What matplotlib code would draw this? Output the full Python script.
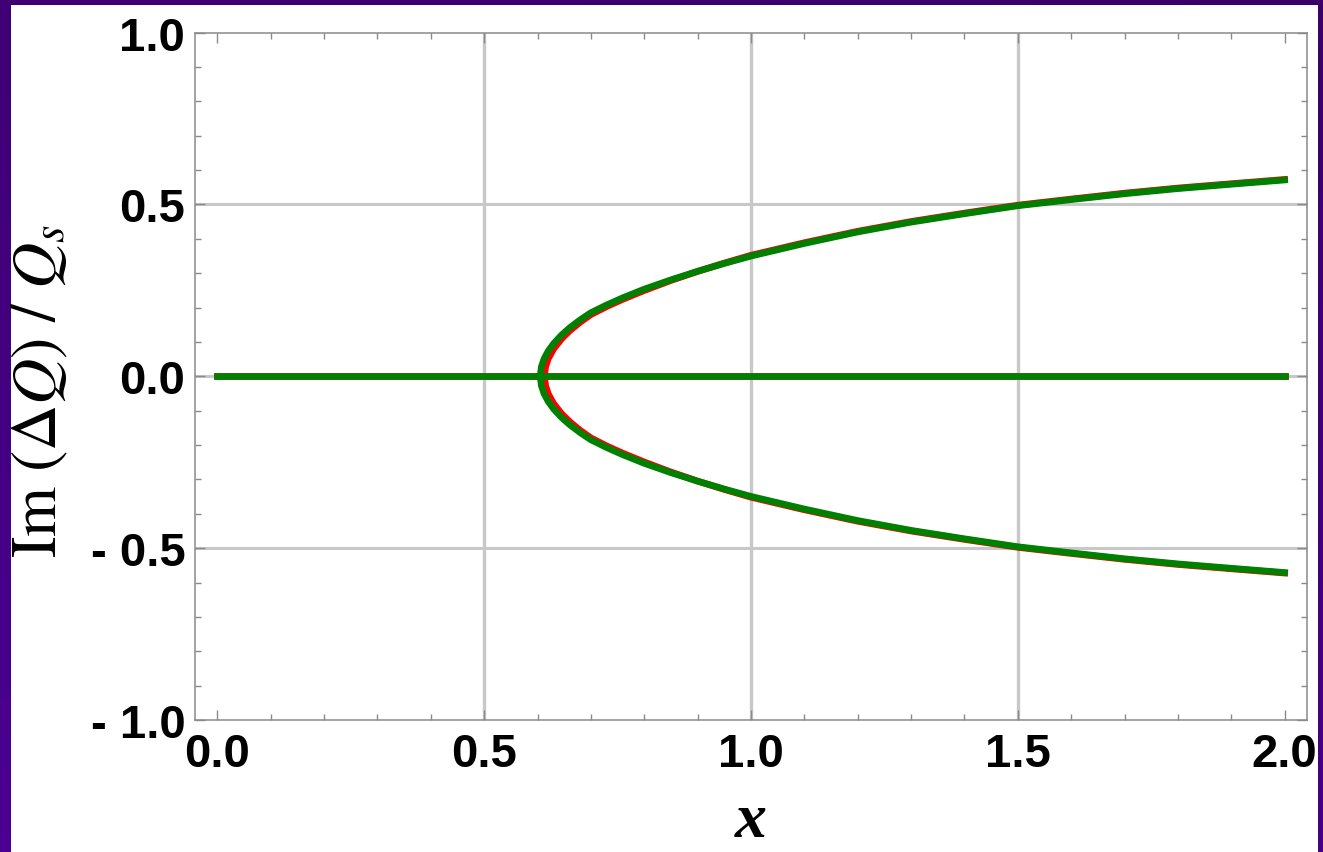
import numpy as np
import matplotlib
matplotlib.use("Agg")
import matplotlib.pyplot as plt
from matplotlib.patches import Rectangle
from matplotlib.ticker import MultipleLocator
from matplotlib.colors import LinearSegmentedColormap

plt.rcParams["mathtext.fontset"] = "stix"

# ---- data ----
green_x = [0.605, 0.607, 0.612, 0.62, 0.63, 0.645, 0.66, 0.68, 0.70, 0.73, 0.76,
           0.80, 0.85, 0.90, 0.95, 1.0, 1.1, 1.2, 1.3, 1.4, 1.5, 1.6, 1.7, 1.8, 1.9, 2.0]
green_y = [0.0, 0.0268, 0.0502, 0.0735, 0.0949, 0.120, 0.1407, 0.1643, 0.1849, 0.2078,
           0.2285, 0.2534, 0.2805, 0.3053, 0.3282, 0.3496, 0.3863, 0.4198, 0.4483,
           0.4728, 0.496, 0.5138, 0.531, 0.5459, 0.5586, 0.571]
red_x = [0.613, 0.615, 0.62, 0.63, 0.645, 0.66, 0.68, 0.70, 0.73, 0.76, 0.80, 0.85,
         0.90, 0.95, 1.0, 1.1, 1.2, 1.3, 1.4, 1.5, 1.6, 1.7, 1.8, 1.9, 2.0]
red_y = [0.0, 0.0272, 0.0509, 0.0793, 0.1088, 0.1319, 0.1574, 0.1794, 0.203, 0.224,
         0.2494, 0.2786, 0.305, 0.3293, 0.352, 0.3885, 0.4218, 0.4502, 0.4746, 0.4977,
         0.5155, 0.5326, 0.5475, 0.5601, 0.5725]
zero_x = [0.0, 2.0]
zero_y = [0.0, 0.0]

x_ticks = [0.0, 0.5, 1.0, 1.5, 2.0]
x_ticklabels = ["0.0", "0.5", "1.0", "1.5", "2.0"]
y_ticks = [-1.0, -0.5, 0.0, 0.5, 1.0]
y_ticklabels = ["- 1.0", "- 0.5", "0.0", "0.5", "1.0"]

W, H = 1323, 853
fig = plt.figure(figsize=(W / 100, H / 100), dpi=100)

# purple frame background
bg = fig.add_axes([0, 0, 1, 1], zorder=-10)
cmap = LinearSegmentedColormap.from_list("pur", ["#3a0068", "#4a0092"])
gy, gx = np.mgrid[0:1:50j, 0:1:50j]
bg.imshow(0.7 * gy + 0.3 * (1 - gx), cmap=cmap, aspect="auto", extent=[0, 1, 0, 1])
bg.set_axis_off()
fig.patches.append(Rectangle((11 / W, 0), (1318 - 11) / W, (H - 6) / H,
                             transform=fig.transFigure, facecolor="white",
                             edgecolor="none", zorder=-5))

ax = fig.add_axes([195 / W, 1 - 721 / H, (1307 - 195) / W, (721 - 33.5) / H])
ax.set_facecolor("white")

gridc = "#c8c8c8"
for gxv in [0.5, 1.0, 1.5]:
    ax.axvline(gxv, color=gridc, lw=2.4, zorder=1)
for gyv in [-0.5, 0.0, 0.5]:
    ax.axhline(gyv, color=gridc, lw=2.2, zorder=1)

lw = 4.8
ax.plot(zero_x, zero_y, color="#ff0000", lw=lw, zorder=2)
ax.plot(red_x, red_y, color="#ff0000", lw=lw, zorder=2, solid_joinstyle="round")
ax.plot(red_x, [-v for v in red_y], color="#ff0000", lw=lw, zorder=2, solid_joinstyle="round")
ax.plot(zero_x, zero_y, color="#008000", lw=lw, zorder=3)
ax.plot(green_x, green_y, color="#008000", lw=lw, zorder=3, solid_joinstyle="round")
ax.plot(green_x, [-v for v in green_y], color="#008000", lw=lw, zorder=3, solid_joinstyle="round")

ax.set_xlim(-0.042, 2.042)
ax.set_ylim(-1.0, 1.0)

ax.set_xticks(x_ticks)
ax.set_xticklabels(x_ticklabels)
ax.set_yticks(y_ticks)
ax.set_yticklabels(y_ticklabels)
ax.xaxis.set_minor_locator(MultipleLocator(0.1))
ax.yaxis.set_minor_locator(MultipleLocator(0.1))

framec = "#8a8a8a"
for s in ax.spines.values():
    s.set_color(framec)
    s.set_linewidth(1.1)

ax.tick_params(which="both", direction="in", top=True, right=True, color=framec, width=1.0)
ax.tick_params(which="major", length=7.2)
ax.tick_params(which="minor", length=4.3)
ax.tick_params(axis="y", which="major", pad=7)
ax.tick_params(axis="x", which="major", pad=9)
for lab in ax.get_xticklabels() + ax.get_yticklabels():
    lab.set_fontfamily("Liberation Sans")
    lab.set_fontweight("bold")
    lab.set_fontsize(34)

ax.set_ylabel(r"$\mathrm{Im}\ (\Delta Q)\ /\ Q_s$", fontsize=46)
ax.yaxis.set_label_coords(-0.112, 0.48)
ax.set_xlabel("x", fontfamily="Liberation Serif", fontweight="bold", fontstyle="italic",
              fontsize=46, labelpad=11)

fig.savefig("out.png", dpi=100)
